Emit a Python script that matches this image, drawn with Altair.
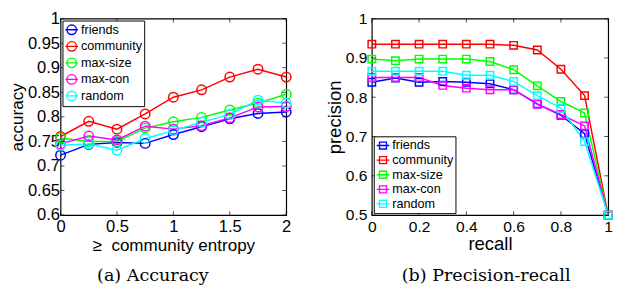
import altair as alt
import pandas as pd

methods = ["friends", "community", "max-size", "max-con", "random"]
colors = ["#0000FF", "#FF0000", "#00FF00", "#FF00FF", "#00FFFF"]

# (a) Accuracy vs community entropy threshold
entropy = [0.0, 0.25, 0.5, 0.75, 1.0, 1.25, 1.5, 1.75, 2.0]
acc_friends = [0.722, 0.744, 0.748, 0.746, 0.764, 0.780, 0.796, 0.807, 0.810]
acc_community = [0.760, 0.791, 0.775, 0.806, 0.840, 0.855, 0.881, 0.897, 0.881]
acc_maxsize = [0.757, 0.750, 0.750, 0.777, 0.790, 0.799, 0.814, 0.828, 0.846]
acc_maxcon = [0.745, 0.761, 0.753, 0.781, 0.775, 0.782, 0.798, 0.820, 0.821]
acc_random = [0.742, 0.745, 0.732, 0.756, 0.772, 0.789, 0.805, 0.834, 0.828]

# (b) Precision-recall
recall = [0.0, 0.1, 0.2, 0.3, 0.4, 0.5, 0.6, 0.7, 0.8, 0.9, 1.0]
pr_friends = [0.838, 0.849, 0.838, 0.840, 0.838, 0.834, 0.819, 0.783, 0.754, 0.707, 0.5]
pr_community = [0.935, 0.935, 0.935, 0.935, 0.935, 0.935, 0.932, 0.920, 0.871, 0.804, 0.5]
pr_maxsize = [0.897, 0.893, 0.897, 0.897, 0.897, 0.891, 0.870, 0.829, 0.789, 0.760, 0.5]
pr_maxcon = [0.850, 0.850, 0.850, 0.830, 0.823, 0.819, 0.819, 0.782, 0.756, 0.727, 0.5]
pr_random = [0.866, 0.866, 0.866, 0.866, 0.856, 0.856, 0.840, 0.804, 0.772, 0.687, 0.5]

acc_x_ticks = [0, 0.5, 1, 1.5, 2]
acc_y_ticks = [0.6, 0.65, 0.7, 0.75, 0.8, 0.85, 0.9, 0.95, 1.0]
pr_x_ticks = [0, 0.2, 0.4, 0.6, 0.8, 1.0]
pr_y_ticks = [0.5, 0.6, 0.7, 0.8, 0.9, 1.0]


def long_df(xs, series):
    rows = []
    for name, ys in zip(methods, series):
        for i, (x, y) in enumerate(zip(xs, ys)):
            rows.append({"x": x, "y": y, "method": name, "idx": i})
    return pd.DataFrame(rows)


acc_df = long_df(entropy, [acc_friends, acc_community, acc_maxsize, acc_maxcon, acc_random])
pr_df = long_df(recall, [pr_friends, pr_community, pr_maxsize, pr_maxcon, pr_random])

FONT = "Liberation Sans"
CIRCLE_SYM = "M-1,0L1,0M0.75,0A0.75,0.75,0,1,1,-0.75,0A0.75,0.75,0,1,1,0.75,0"
SQUARE_SYM = "M-1,0L1,0M-0.55,-0.55L0.55,-0.55L0.55,0.55L-0.55,0.55Z"


def panel(df, xdom, ydom, xticks, yticks, xtitle, ytitle, shape, msize, sym,
          legend_orient, caption, cap_dx, cap_off, width, height,
          lab_fs, tit_fs, ylabpad, ytitpad, xtitpad):
    color = alt.Color(
        "method:N",
        scale=alt.Scale(domain=methods, range=colors),
        sort=methods,
        legend=alt.Legend(
            title=None, orient=legend_orient, offset=2,
            symbolType=sym, symbolSize=169, symbolStrokeWidth=1.4,
            labelFont=FONT, labelFontSize=13, labelColor="black",
            labelOffset=2, rowPadding=0, padding=2,
            strokeColor="black", fillColor="white", cornerRadius=0,
        ),
    )
    xenc = alt.X("x:Q", scale=alt.Scale(domain=xdom, nice=False, zero=False),
                 axis=alt.Axis(values=xticks, format="~g", title=xtitle,
                               labelFlush=False, labelOverlap=False,
                               labelFontSize=lab_fs, titleFontSize=tit_fs,
                               labelPadding=4, titlePadding=xtitpad))
    yenc = alt.Y("y:Q", scale=alt.Scale(domain=ydom, nice=False, zero=False),
                 axis=alt.Axis(values=yticks, format="~g", title=ytitle,
                               labelOverlap=False, labelPadding=ylabpad,
                               labelFontSize=lab_fs, titleFontSize=tit_fs,
                               titlePadding=ytitpad))
    base = alt.Chart(df)
    line = base.mark_line(strokeWidth=1.5).encode(
        x=xenc, y=yenc, color=color, order="idx:Q")
    pts = base.mark_point(shape=shape, size=msize, filled=False, strokeWidth=1.5,
                          opacity=1).encode(x=xenc, y=yenc, color=color)

    nx, ny = len(xticks), len(yticks)
    bot_df = pd.DataFrame({"x": xticks, "y": [ydom[0]] * nx})
    top_df = pd.DataFrame({"x": xticks, "y": [ydom[1]] * nx})
    lef_df = pd.DataFrame({"x": [xdom[0]] * ny, "y": yticks})
    rig_df = pd.DataFrame({"x": [xdom[1]] * ny, "y": yticks})
    tick_props = dict(color="black", thickness=1, size=4)
    bot = alt.Chart(bot_df).mark_tick(orient="vertical", yOffset=-2, **tick_props).encode(x=xenc, y=yenc)
    top = alt.Chart(top_df).mark_tick(orient="vertical", yOffset=2, **tick_props).encode(x=xenc, y=yenc)
    lef = alt.Chart(lef_df).mark_tick(orient="horizontal", xOffset=2, **tick_props).encode(x=xenc, y=yenc)
    rig = alt.Chart(rig_df).mark_tick(orient="horizontal", xOffset=-2, **tick_props).encode(x=xenc, y=yenc)

    return alt.layer(line, pts, bot, top, lef, rig).properties(
        width=width, height=height,
        title=alt.TitleParams(text=caption, orient="bottom", anchor="middle",
                              dx=cap_dx, offset=cap_off, font="DejaVu Serif",
                              fontSize=18, fontWeight="normal", color="black"),
    )


left = panel(acc_df, [0, 2], [0.6, 1.0], acc_x_ticks, acc_y_ticks,
             "\u2265\u00a0 community entropy", "accuracy", "circle", 95, CIRCLE_SYM,
             "top-left", "(a) Accuracy", -21, 14, 232, 202,
             17, 17.5, 1, 1, 2)
right = panel(pr_df, [0, 1], [0.5, 1.0], pr_x_ticks, pr_y_ticks,
              "recall", "precision", "square", 58, SQUARE_SYM,
              "bottom-left", "(b) Precision-recall", -4, 15, 243, 202,
              16, 19, 5, 1, 0)

chart = (
    alt.hconcat(left, right, spacing=31)
    .resolve_scale(color="independent")
    .configure_view(stroke="black", strokeWidth=1.2)
    .configure_axis(domain=False, ticks=False, grid=False,
                    labelFont=FONT, labelColor="black",
                    titleFont=FONT, titleFontWeight="normal",
                    titleColor="black")
    .properties(background="white",
                padding={"left": 0, "top": -3, "right": -1, "bottom": -3})
)

chart.save("out.html", embed_options={"renderer": "svg", "actions": False})
